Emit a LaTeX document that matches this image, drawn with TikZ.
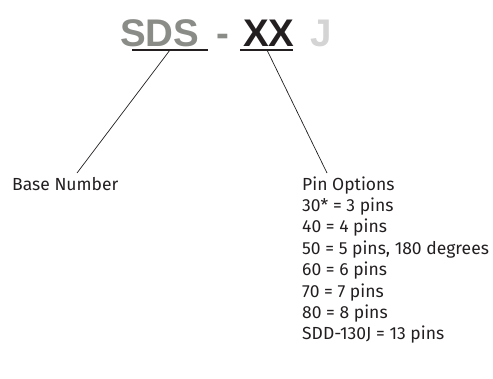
\documentclass[tikz,border=0pt]{standalone}
\usepackage{fontspec}
\setmainfont{Fira Sans}
\newfontfamily\titlefont{Liberation Sans}
\definecolor{txt}{HTML}{231F20}
\definecolor{sdsgray}{HTML}{8A8C88}
\definecolor{jgray}{HTML}{D4D4D4}
\begin{document}
\begin{tikzpicture}[x=1pt,y=-1pt,
  title/.style={inner sep=0pt,anchor=base west,font=\titlefont\bfseries\fontsize{38.5}{38.5}\selectfont},
  lbl/.style={inner sep=0pt,anchor=base west,text=txt,font=\fontsize{17.5}{21.4}\selectfont,align=left},
  uline/.style={draw=txt,line width=1.2pt},
  conn/.style={draw=txt,line width=0.7pt}]
\useasboundingbox (0,0) rectangle (493,378);
\node[title,text=sdsgray] (sds) at (120,46) {SDS};
\node[title,text=sdsgray] (dash) at (216,46) {-};
\node[title,text=txt] (xx) at (243,46) {XX};
\node[title,text=jgray] (j) at (310,46) {J};
\coordinate (u1a) at (132,50); \coordinate (u1b) at (208,50);
\coordinate (u2a) at (240,50); \coordinate (u2b) at (293,50);
\draw[uline] (u1a) -- (u1b);
\draw[uline] (u2a) -- (u2b);
\coordinate (s1) at (170,50);
\coordinate (s2) at (267,50);
\node[lbl] (base) at (12,190) {Base Number};
\node[lbl] (pins) at (302,339.8) {Pin Options\\30* = 3 pins\\40 = 4 pins\\50 = 5 pins, 180 degrees\\60 = 6 pins\\70 = 7 pins\\80 = 8 pins\\SDD-130J = 13 pins};
\coordinate (e1) at (77,173);
\coordinate (e2) at (327,173);
\draw[conn] (s1) -- (e1);
\draw[conn] (s2) -- (e2);
\end{tikzpicture}
\end{document}
